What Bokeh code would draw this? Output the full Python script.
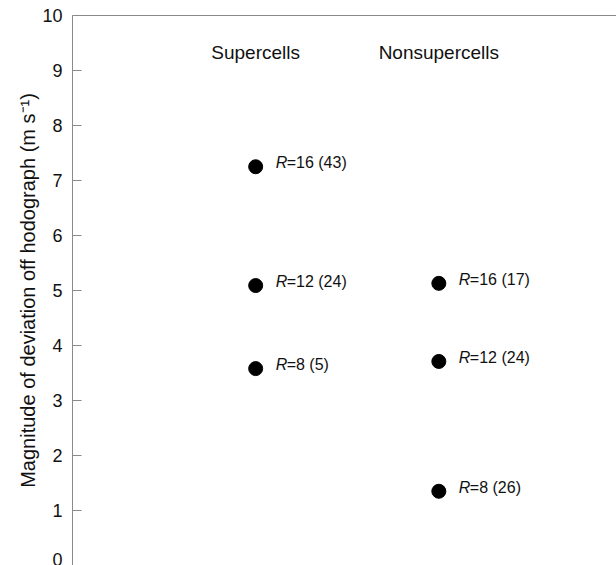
from bokeh.plotting import figure
from bokeh.models import Range1d, LinearAxis, FixedTicker, ColumnDataSource
from bokeh.core.properties import value
from bokeh.embed import file_html
from bokeh.resources import INLINE

# ---- data ----
categories = ["Supercells", "Nonsupercells"]
supercell_R = [16, 12, 8]
supercell_dev = [7.25, 5.09, 3.58]
supercell_n = [43, 24, 5]
nonsupercell_R = [16, 12, 8]
nonsupercell_dev = [5.13, 3.71, 1.35]
nonsupercell_n = [17, 24, 26]
y_ticks = [0, 1, 2, 3, 4, 5, 6, 7, 8, 9, 10]

FONT = "Liberation Sans"
AXIS_GRAY = "#8a8a8a"

p = figure(width=616, height=565, output_backend="svg", toolbar_location=None,
           x_axis_type=None, x_range=Range1d(0, 2.97), y_range=Range1d(0, 10),
           min_border_left=72, min_border_right=0, min_border_top=15,
           min_border_bottom=0)
p.outline_line_color = None
p.grid.visible = False
p.background_fill_color = "white"
p.border_fill_color = "white"

ya = p.yaxis[0]
ya.ticker = FixedTicker(ticks=y_ticks)
ya.axis_line_color = AXIS_GRAY
ya.major_tick_line_color = AXIS_GRAY
ya.major_tick_in = 9
ya.major_tick_out = 0
ya.minor_tick_line_color = None
ya.major_label_text_font = FONT
ya.major_label_text_font_size = "18px"
ya.major_label_text_color = "#111111"
ya.major_label_standoff = 10
ya.axis_label = "Magnitude of deviation off hodograph (m s\u207b\u00b9)"
ya.axis_label_text_font = FONT
ya.axis_label_text_font_size = "20px"
ya.axis_label_text_font_style = "normal"
ya.axis_label_text_color = "#111111"
ya.axis_label_standoff = 0

top = LinearAxis(ticker=FixedTicker(ticks=[]), axis_line_color=AXIS_GRAY,
                 major_tick_line_color=None, minor_tick_line_color=None,
                 major_label_text_font_size="0px", major_tick_in=0,
                 major_tick_out=0, major_label_standoff=0)
p.add_layout(top, "above")

cat_x = [i + 1 for i in range(len(categories))]

# column headers
p.text(x=cat_x, y=[10, 10], text=categories, text_font=value(FONT),
       text_font_size="19px", text_align="center", text_baseline="middle",
       y_offset=37, text_color="#111111")

series = [
    (cat_x[0], supercell_R, supercell_dev, supercell_n),
    (cat_x[1], nonsupercell_R, nonsupercell_dev, nonsupercell_n),
]
for cx, Rs, devs, ns in series:
    src = ColumnDataSource(dict(
        x=[cx] * len(devs), y=devs,
        r=["R"] * len(devs),
        rest=["=%d (%d)" % (r, n) for r, n in zip(Rs, ns)],
    ))
    p.scatter(x="x", y="y", source=src, size=14, color="black")
    p.text(x="x", y="y", text="r", source=src, text_font=value(FONT),
           text_font_style="italic", text_font_size="16px",
           text_baseline="middle", x_offset=20, y_offset=-4,
           text_color="#111111")
    p.text(x="x", y="y", text="rest", source=src, text_font=value(FONT),
           text_font_size="16px", text_baseline="middle", x_offset=31,
           y_offset=-4, text_color="#111111")

open("out.html", "w").write(file_html(p, INLINE))
